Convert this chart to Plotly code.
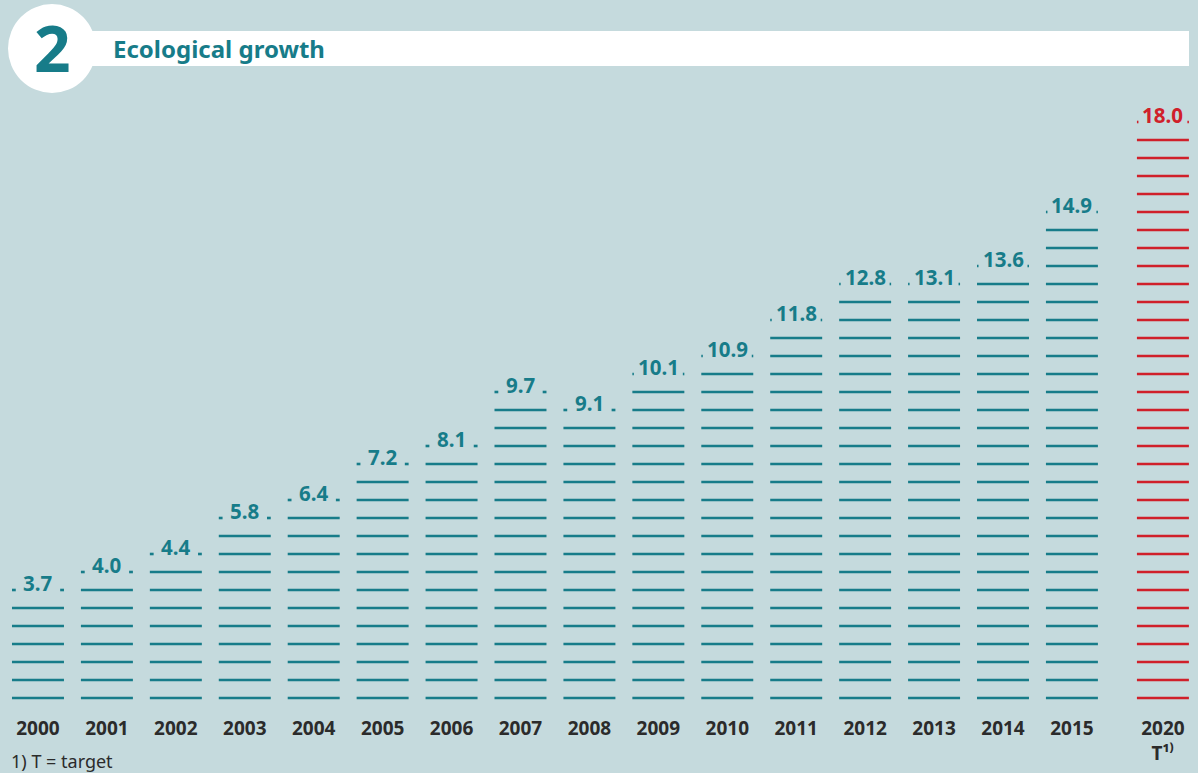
import math
import plotly.graph_objects as go

# ---------------- data ----------------
years = ["2000", "2001", "2002", "2003", "2004", "2005", "2006", "2007",
         "2008", "2009", "2010", "2011", "2012", "2013", "2014", "2015", "2020"]
values = [3.7, 4.0, 4.4, 5.8, 6.4, 7.2, 8.1, 9.7, 9.1, 10.1, 10.9, 11.8,
          12.8, 13.1, 13.6, 14.9, 18.0]
is_target = [False] * 16 + [True]
tick_labels = years[:-1] + ["2020<br>T¹⁾"]
title_number = "2"
title_text = "Ecological growth"
footnote = "1) T = target"

# ---------------- style ----------------
BG = "#c5dadd"
TEAL = "#177c89"
RED = "#d0202a"
DARK = "#2b2b2b"
FONT = "Noto Sans"
STRIPES_PER_UNIT = 1.83   # stripes drawn per percentage point
TARGET_GAP = 0.32         # extra spacing before the target column
HALF = 0.377              # half width of a stripe (x units)

W, H = 1198, 773
MB = 61                   # bottom margin (px)
PH = H - MB


def px_x(p):
    return p / W


def px_y(p):
    return (PH - p) / PH


positions = []
for i, t in enumerate(is_target):
    positions.append(i + (TARGET_GAP if t else 0))

fig = go.Figure()

annotations = []
for x, v, t, lab in zip(positions, values, is_target, years):
    col = RED if t else TEAL
    n = math.ceil(v * STRIPES_PER_UNIT)
    xs, ys = [], []
    for k in range(1, n):
        xs += [x - HALF, x + HALF, None]
        ys += [k, k, None]
    label = f"{v:.1f}"
    stub = 0.055 if len(label) <= 3 else 0.022
    xs += [x - HALF, x - HALF + stub, None, x + HALF - stub, x + HALF, None]
    ys += [n, n, None, n, n, None]
    fig.add_trace(go.Scatter(x=xs, y=ys, mode="lines",
                             line=dict(color=col, width=2.6),
                             hoverinfo="skip", showlegend=False, name=lab))
    annotations.append(dict(x=x, y=n, xref="x", yref="y", text=f"<b>{label}</b>",
                            showarrow=False, yanchor="middle", yshift=7,
                            font=dict(family=FONT, size=20.5, color=col)))

annotations.append(dict(x=px_x(53), y=px_y(47), xref="paper", yref="paper",
                        text=f"<b>{title_number}</b>", showarrow=False,
                        xanchor="center", yanchor="middle",
                        font=dict(family=FONT, size=64, color=TEAL)))
annotations.append(dict(x=px_x(111), y=px_y(48), xref="paper", yref="paper",
                        text=f"<b>{title_text}</b>", showarrow=False,
                        xanchor="left", yanchor="middle",
                        font=dict(family=FONT, size=24, color=TEAL)))
annotations.append(dict(x=px_x(9), y=px_y(761), xref="paper", yref="paper",
                        text=footnote, showarrow=False,
                        xanchor="left", yanchor="middle",
                        font=dict(family=FONT, size=18, color=DARK)))

shapes = [
    dict(type="rect", xref="paper", yref="paper",
         x0=px_x(40), x1=px_x(1189), y0=px_y(66), y1=px_y(31),
         fillcolor="white", line=dict(width=0), layer="below"),
    dict(type="circle", xref="paper", yref="paper",
         x0=px_x(8), x1=px_x(96), y0=px_y(93), y1=px_y(4),
         fillcolor="white", line=dict(width=0), layer="below"),
]

fig.update_layout(
    width=W, height=H, autosize=False,
    margin=dict(l=0, r=0, t=0, b=MB, pad=0),
    paper_bgcolor=BG, plot_bgcolor=BG,
    showlegend=False,
    xaxis=dict(range=[-0.551, 16.829], showgrid=False, zeroline=False,
               showline=False, tickmode="array", tickvals=positions,
               ticktext=[f"<b>{t}</b>" for t in tick_labels], ticks="",
               ticklabelstandoff=3,
               tickfont=dict(family=FONT, size=19, color=DARK)),
    yaxis=dict(range=[0.2222, 39.778], showgrid=False, zeroline=False,
               showline=False, showticklabels=False),
    annotations=annotations,
    shapes=shapes,
)

fig.write_html("out.html",
               config={"displayModeBar": False, "staticPlot": True},
               post_script="document.body.style.margin='0';"
                           "document.body.style.background='" + BG + "';")
